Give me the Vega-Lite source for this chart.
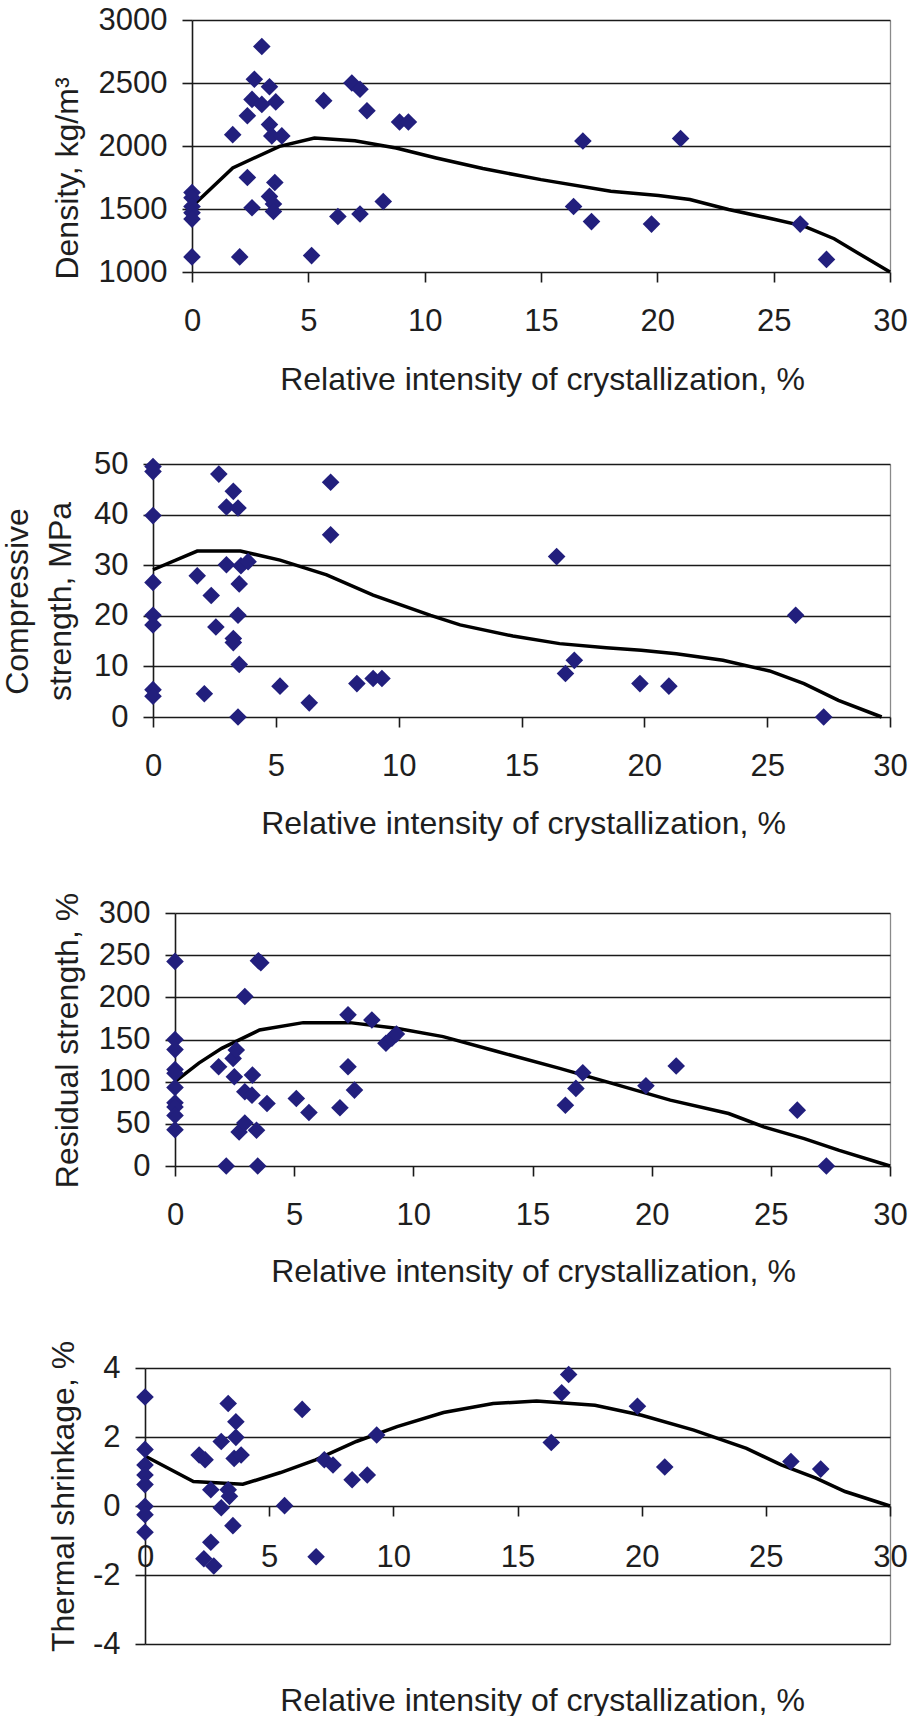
{
  "$schema": "https://vega.github.io/schema/vega-lite/v6.json",
  "background": "white",
  "padding": {"left": 1, "top": 4, "right": 5, "bottom": 0},
  "columns": 1,
  "align": "none",
  "spacing": 53,
  "config": {
    "view": {"stroke": null},
    "font": "Liberation Sans",
    "axis": {
      "labelFont": "Liberation Sans", "titleFont": "Liberation Sans",
      "labelFontSize": 31, "titleFontSize": 32, "titleFontWeight": "normal",
      "labelColor": "#1e1e1e", "titleColor": "#1e1e1e",
      "domainColor": "#1a1a1a", "domainWidth": 1.6,
      "tickColor": "#1a1a1a", "tickWidth": 1.6, "tickSize": 10,
      "gridColor": "#1a1a1a", "gridWidth": 1.5, "gridOpacity": 1,
      "labelOverlap": false, "labelFlush": false, "labelBound": false
    },
    "axisX": {"labelPadding": 24, "domain": false, "grid": true, "gridColor": "#8a8a8a", "gridWidth": 1.3, "titleBaseline": "alphabetic"},
    "axisY": {"labelPadding": 15, "grid": true, "titleAngle": 270, "titleBaseline": "alphabetic", "titleAlign": "center", "format": "d"}
  },
  "datasets": {
    "dens_pts": [
      {"x":0,"y":1630},{"x":0,"y":1590},{"x":0,"y":1520},{"x":0,"y":1470},{"x":0,"y":1420},{"x":0,"y":1120},
      {"x":1.75,"y":2090},{"x":2.05,"y":1120},{"x":2.38,"y":2240},{"x":2.38,"y":1750},{"x":2.58,"y":2370},{"x":2.68,"y":2530},{"x":2.58,"y":1510},
      {"x":3.0,"y":2790},{"x":3.0,"y":2330},{"x":3.33,"y":2470},{"x":3.33,"y":2170},{"x":3.33,"y":1600},{"x":3.43,"y":2080},{"x":3.5,"y":1540},
      {"x":3.5,"y":1480},{"x":3.56,"y":1710},{"x":3.6,"y":2350},{"x":3.86,"y":2080},{"x":5.14,"y":1130},{"x":5.66,"y":2360},{"x":6.27,"y":1440},
      {"x":6.87,"y":2500},{"x":7.22,"y":2450},{"x":7.22,"y":1460},{"x":7.52,"y":2280},{"x":8.22,"y":1560},{"x":8.92,"y":2190},{"x":9.3,"y":2190},
      {"x":16.4,"y":1520},{"x":16.8,"y":2040},{"x":17.17,"y":1400},{"x":19.75,"y":1380},{"x":21.0,"y":2060},{"x":26.14,"y":1380},{"x":27.27,"y":1100}
    ],
    "dens_curve": [
      {"x":0,"y":1520},{"x":1.75,"y":1826},{"x":3.76,"y":1997},{"x":5.26,"y":2063},{"x":7.0,"y":2042},{"x":8.77,"y":1984},
      {"x":10.5,"y":1905},{"x":12.5,"y":1821},{"x":15.0,"y":1733},{"x":18.0,"y":1641},{"x":20.05,"y":1607},{"x":21.4,"y":1575},
      {"x":23.06,"y":1496},{"x":25.06,"y":1417},{"x":26.3,"y":1364},{"x":27.6,"y":1264},{"x":28.6,"y":1153},{"x":30,"y":1000}
    ],
    "comp_pts": [
      {"x":0,"y":49.5},{"x":0,"y":48.5},{"x":0,"y":39.8},{"x":0,"y":26.6},{"x":0,"y":20.1},{"x":0,"y":18.2},{"x":0,"y":5.4},{"x":0,"y":4.1},
      {"x":1.8,"y":27.9},{"x":2.09,"y":4.6},{"x":2.37,"y":24.0},{"x":2.56,"y":17.8},{"x":2.68,"y":48.0},{"x":2.99,"y":41.5},{"x":2.99,"y":30.1},
      {"x":3.27,"y":44.6},{"x":3.27,"y":15.5},{"x":3.27,"y":14.7},{"x":3.46,"y":41.3},{"x":3.46,"y":20.1},{"x":3.46,"y":0},{"x":3.51,"y":26.3},
      {"x":3.51,"y":10.4},{"x":3.58,"y":29.9},{"x":3.87,"y":30.7},{"x":5.17,"y":6.1},{"x":6.36,"y":2.8},{"x":7.23,"y":46.4},{"x":7.23,"y":36.0},
      {"x":8.3,"y":6.6},{"x":8.96,"y":7.6},{"x":9.32,"y":7.6},{"x":16.43,"y":31.7},{"x":16.79,"y":8.6},{"x":17.15,"y":11.2},{"x":19.82,"y":6.6},
      {"x":21.0,"y":6.1},{"x":26.16,"y":20.1},{"x":27.3,"y":0}
    ],
    "comp_curve": [
      {"x":0,"y":29.1},{"x":1.8,"y":32.8},{"x":3.56,"y":32.8},{"x":5.17,"y":31.0},{"x":7.07,"y":28.1},{"x":8.96,"y":24.1},
      {"x":11.3,"y":20.1},{"x":12.5,"y":18.2},{"x":14.65,"y":16.0},{"x":16.55,"y":14.5},{"x":18.45,"y":13.7},{"x":19.87,"y":13.2},
      {"x":21.3,"y":12.5},{"x":23.2,"y":11.2},{"x":25.1,"y":9.1},{"x":26.5,"y":6.6},{"x":27.9,"y":3.3},{"x":29.66,"y":0}
    ],
    "resid_pts": [
      {"x":0,"y":242.6},{"x":0,"y":150},{"x":0,"y":138},{"x":0,"y":114.5},{"x":0,"y":110},{"x":0,"y":93},{"x":0,"y":75},{"x":0,"y":70},{"x":0,"y":60},{"x":0,"y":43},
      {"x":1.83,"y":117.7},{"x":2.15,"y":0},{"x":2.44,"y":127.6},{"x":2.49,"y":105.8},{"x":2.57,"y":137.5},{"x":2.69,"y":40.4},{"x":2.93,"y":201},
      {"x":2.93,"y":88},{"x":2.93,"y":51},{"x":3.23,"y":84},{"x":3.25,"y":107.8},{"x":3.42,"y":42.4},{"x":3.47,"y":0},{"x":3.5,"y":243.4},
      {"x":3.6,"y":241},{"x":3.86,"y":74.1},{"x":5.09,"y":80.1},{"x":5.62,"y":63.4},{"x":6.92,"y":69},{"x":7.26,"y":179.2},{"x":7.26,"y":117.7},
      {"x":7.53,"y":90},{"x":8.26,"y":173.2},{"x":8.85,"y":145.5},{"x":9.1,"y":151.4},{"x":9.29,"y":156.6},{"x":16.38,"y":72.1},{"x":16.82,"y":92},
      {"x":17.11,"y":110.6},{"x":19.76,"y":95.1},{"x":21.03,"y":118.5},{"x":26.11,"y":66.2},{"x":27.33,"y":0}
    ],
    "resid_curve": [
      {"x":0,"y":100},{"x":1,"y":122},{"x":1.96,"y":139.5},{"x":3.55,"y":161.3},{"x":5.38,"y":170},{"x":7.33,"y":170},{"x":9.29,"y":163.3},
      {"x":11.25,"y":153.4},{"x":13.45,"y":136.3},{"x":16.14,"y":115.7},{"x":18.34,"y":97.9},{"x":20.78,"y":78.1},{"x":23.23,"y":62.2},
      {"x":24.7,"y":46.4},{"x":26.4,"y":32.5},{"x":27.87,"y":18.6},{"x":30,"y":0}
    ],
    "therm_pts": [
      {"x":0,"y":3.16},{"x":0,"y":1.64},{"x":0,"y":1.19},{"x":0,"y":0.9},{"x":0,"y":0.62},{"x":0,"y":-0.01},{"x":0,"y":-0.25},{"x":0,"y":-0.76},
      {"x":2.18,"y":1.48},{"x":2.37,"y":-1.53},{"x":2.42,"y":1.34},{"x":2.65,"y":0.47},{"x":2.65,"y":-1.05},{"x":2.77,"y":-1.74},{"x":3.07,"y":1.87},
      {"x":3.07,"y":-0.05},{"x":3.35,"y":2.97},{"x":3.35,"y":0.47},{"x":3.4,"y":0.28},{"x":3.54,"y":-0.57},{"x":3.59,"y":1.38},{"x":3.66,"y":2.44},
      {"x":3.66,"y":1.99},{"x":3.87,"y":1.48},{"x":5.62,"y":0.01},{"x":6.33,"y":2.8},{"x":6.89,"y":-1.47},{"x":7.22,"y":1.34},{"x":7.57,"y":1.19},
      {"x":8.34,"y":0.76},{"x":8.95,"y":0.9},{"x":9.33,"y":2.06},{"x":16.36,"y":1.84},{"x":16.78,"y":3.28},{"x":17.06,"y":3.81},{"x":19.83,"y":2.89},
      {"x":20.93,"y":1.13},{"x":26.01,"y":1.29},{"x":27.21,"y":1.07}
    ],
    "therm_curve": [
      {"x":0,"y":1.45},{"x":1.95,"y":0.71},{"x":3.94,"y":0.63},{"x":5.46,"y":0.97},{"x":6.87,"y":1.34},{"x":8.51,"y":1.87},
      {"x":10.15,"y":2.3},{"x":12.02,"y":2.71},{"x":14.02,"y":2.97},{"x":15.77,"y":3.04},{"x":18.12,"y":2.92},{"x":20,"y":2.63},
      {"x":22.1,"y":2.2},{"x":24.22,"y":1.67},{"x":25.62,"y":1.19},{"x":27.02,"y":0.81},{"x":28.19,"y":0.42},{"x":30,"y":0}
    ]
  },
  "concat": [
    {
      "width": 745, "height": 252,
      "encoding": {
        "x": {"field": "x", "type": "quantitative",
              "scale": {"domain": [0, 30], "nice": false, "zero": false, "range": [47, 745]},
              "axis": {"title": "Relative intensity of crystallization, %", "values": [0,5,10,15,20,25,30],
                       "titleX": 397, "titleY": 117,
                       "gridOpacity": {"condition": {"test": "datum.value == 30", "value": 1}, "value": 0}}},
        "y": {"field": "y", "type": "quantitative",
              "scale": {"domain": [1000, 3000], "nice": false, "zero": false},
              "axis": {"title": "Density, kg/m³", "values": [1000,1500,2000,2500,3000], "offset": -47,
                       "titleX": -115, "titleY": 158}}
      },
      "layer": [
        {"data": {"name": "dens_curve"}, "mark": {"type": "line", "color": "#000000", "strokeWidth": 3.5}},
        {"data": {"name": "dens_pts"}, "mark": {"type": "point", "shape": "diamond", "filled": true, "size": 310, "color": "#221f7d", "opacity": 1}}
      ]
    },
    {
      "width": 745, "height": 253,
      "encoding": {
        "x": {"field": "x", "type": "quantitative",
              "scale": {"domain": [0, 30], "nice": false, "zero": false, "range": [8, 745]},
              "axis": {"title": "Relative intensity of crystallization, %", "values": [0,5,10,15,20,25,30],
                       "titleX": 378, "titleY": 116,
                       "gridOpacity": {"condition": {"test": "datum.value == 30", "value": 1}, "value": 0}}},
        "y": {"field": "y", "type": "quantitative",
              "scale": {"domain": [0, 50], "nice": false},
              "axis": {"title": ["Compressive", "strength, MPa"], "titleLineHeight": 43, "values": [0,10,20,30,40,50], "offset": -8,
                       "titleX": -126, "titleY": 137}}
      },
      "layer": [
        {"data": {"name": "comp_curve"}, "mark": {"type": "line", "color": "#000000", "strokeWidth": 3.5}},
        {"data": {"name": "comp_pts"}, "mark": {"type": "point", "shape": "diamond", "filled": true, "size": 310, "color": "#221f7d", "opacity": 1}}
      ]
    },
    {
      "width": 745, "height": 253,
      "encoding": {
        "x": {"field": "x", "type": "quantitative",
              "scale": {"domain": [0, 30], "nice": false, "zero": false, "range": [30, 745]},
              "axis": {"title": "Relative intensity of crystallization, %", "values": [0,5,10,15,20,25,30],
                       "titleX": 388, "titleY": 115,
                       "gridOpacity": {"condition": {"test": "datum.value == 30", "value": 1}, "value": 0}}},
        "y": {"field": "y", "type": "quantitative",
              "scale": {"domain": [0, 300], "nice": false},
              "axis": {"title": "Residual strength, %", "values": [0,50,100,150,200,250,300], "offset": -30,
                       "titleX": -98, "titleY": 127}}
      },
      "layer": [
        {"data": {"name": "resid_curve"}, "mark": {"type": "line", "color": "#000000", "strokeWidth": 3.5}},
        {"data": {"name": "resid_pts"}, "mark": {"type": "point", "shape": "diamond", "filled": true, "size": 310, "color": "#221f7d", "opacity": 1}}
      ]
    },
    {
      "width": 745, "height": 276,
      "encoding": {
        "x": {"field": "x", "type": "quantitative",
              "scale": {"domain": [0, 30], "nice": false, "zero": false, "range": [0, 745]},
              "axis": {"title": "Relative intensity of crystallization, %", "values": [0,5,10,15,20,25,30],
                       "offset": -138, "labelPadding": 26,
                       "titleX": 397, "titleY": 204,
                       "gridOpacity": {"condition": {"test": "datum.value == 30", "value": 1}, "value": 0}}},
        "y": {"field": "y", "type": "quantitative",
              "scale": {"domain": [-4, 4], "nice": false, "zero": false},
              "axis": {"title": "Thermal shrinkage, %", "values": [-4,-2,0,2,4], "labelExpr": "'' + datum.value",
                       "titleX": -72, "titleY": 128}}
      },
      "layer": [
        {"data": {"name": "therm_curve"}, "mark": {"type": "line", "color": "#000000", "strokeWidth": 3.5}},
        {"data": {"name": "therm_pts"}, "mark": {"type": "point", "shape": "diamond", "filled": true, "size": 310, "color": "#221f7d", "opacity": 1}}
      ]
    }
  ]
}
